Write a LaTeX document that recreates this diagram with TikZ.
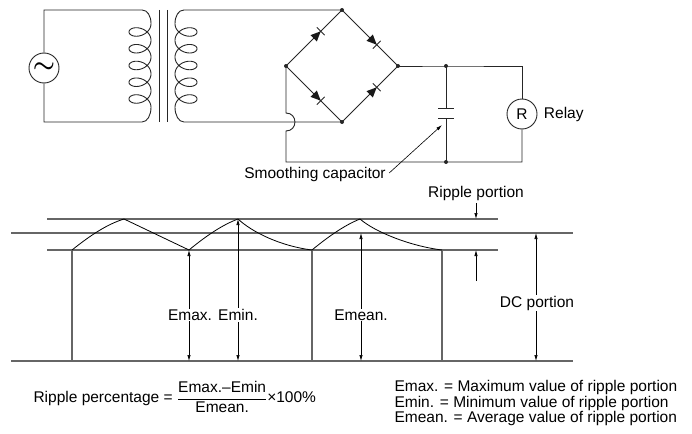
\documentclass[tikz,border=0pt]{standalone}
\usepackage{amsmath}
\usepackage{fontspec}
\setmainfont{Liberation Sans}
\usepackage{tikz}
\usetikzlibrary{arrows.meta,positioning}
\usetikzlibrary{decorations.markings}

\begin{document}
\begin{tikzpicture}[x=1pt,y=-1pt,font=\fontsize{15.5}{15.5}\selectfont,
    wire/.style={draw=black!85,line width=0.9pt},
    scaleline/.style={draw=black!60,line width=1.4pt},
    dimarrow/.style={{Latex[length=6pt,width=3.4pt]}-{Latex[length=6pt,width=3.4pt]},line width=0.7pt},
    onearrow/.style={-{Latex[length=6pt,width=3.4pt]},line width=0.7pt},
    diode/.style={postaction={decorate},decoration={markings,
      mark=at position 0.62 with {\fill[black!90] (-10pt,-4.5pt) -- (0pt,0pt) -- (-10pt,4.5pt) -- cycle;
        \draw[black!85,line width=0.8pt] (0pt,-5.5pt) -- (0pt,5.5pt);}}}]
  \useasboundingbox (0,0) rectangle (692,433);

  % source and transformer
  \node[circle,draw=black!85,line width=0.9pt,minimum size=30pt,inner sep=0pt] (ac) at (44,68)
    {\fontsize{24}{24}\selectfont$\boldsymbol{\sim}$};
  \coordinate (pt) at (142,10);
  \coordinate (pb) at (142,122);
  \coordinate (st) at (184,10);
  \coordinate (sb) at (184,122);
  \coordinate (T) at (342,10);
  \coordinate (L) at (286,66);
  \coordinate (R) at (398,66);
  \coordinate (B) at (342,122);

  \draw[wire] (ac.north) |- (pt) .. controls (147.5,10) and (151,16) .. (151,23.6)
    plot[smooth,samples=240,domain=0:31.416,variable=\t] ({140+11*cos(\t r)},{23.6+2.666*\t+8*sin(\t r)})
    .. controls (151,115) and (147.5,122) .. (pb) -| (ac.south);
  \draw[wire] (159,10) -- (159,122) (167,10) -- (167,122);
  \draw[wire] (T) -- (st) .. controls (178.5,10) and (175,16) .. (175,23.6)
    plot[smooth,samples=240,domain=0:31.416,variable=\t] ({186-11*cos(\t r)},{23.6+2.666*\t+8*sin(\t r)})
    .. controls (175,115) and (178.5,122) .. (sb) -- (B);

  % bridge
  \draw[wire,diode] (L) -- (T);
  \draw[wire,diode] (T) -- (R);
  \draw[wire,diode] (L) -- (B);
  \draw[wire,diode] (B) -- (R);

  % capacitor and relay
  \coordinate (ct) at (446,66);
  \coordinate (cb) at (446,162);
  \coordinate (cp1) at (446,108);
  \coordinate (cp2) at (446,118);
  \coordinate (hopa) at (286,113);
  \coordinate (hopb) at (286,131);
  \node[circle,draw=black!85,line width=0.9pt,minimum size=30pt,inner sep=0pt] (relay) at (522,114) {R};
  \node[right=3pt of relay] (relaytxt) {Relay};
  \draw[wire] (R) -- (ct) -| (relay.north);
  \draw[wire] (L) -- (hopa) to[out=0,in=0,looseness=1.7] (hopb) |- (cb) -| (relay.south);
  \draw[wire] (ct) -- (cp1) (cp2) -- (cb);
  \draw[wire] ([xshift=-8pt]cp1) -- ([xshift=8pt]cp1) ([xshift=-8pt]cp2) -- ([xshift=8pt]cp2);
  \foreach \p in {T,L,R,B,ct,cb} \fill[black!85] (\p) circle[radius=2pt];

  \node (captxt) at (315,174) {Smoothing capacitor};
  \coordinate (capt) at (442,125);
  \draw[onearrow,line width=0.6pt] ([yshift=1pt]captxt.east) -- (capt);

  % ripple graph
  \draw[scaleline] (47,219) -- (498,219);
  \draw[scaleline] (11,233) -- (573,233);
  \draw[scaleline] (47,250) -- (498,250);
  \draw[scaleline] (11,361) -- (573,361);
  \draw[scaleline] (72,250) -- (72,361) (312,250) -- (312,361) (442,250) -- (442,361);
  \draw[black,line width=0.8pt] (72,250) .. controls (92,234) and (108,224) .. (124,219)
    .. controls (145,229) and (168,240) .. (189,250)
    .. controls (206,236) and (222,225) .. (238,219)
    .. controls (252,232) and (280,246) .. (312,250)
    .. controls (329,236) and (345,225) .. (360,219)
    .. controls (375,232) and (410,246) .. (442,250);

  \draw[dimarrow] (189,250) -- (189,361);
  \draw[dimarrow] (238,219) -- (238,361);
  \draw[dimarrow] (361,233) -- (361,361);
  \draw[dimarrow] (536,233) -- (536,361);
  \node[fill=white,inner sep=1pt] (emax) at (190,315) {Emax.};
  \node[fill=white,inner sep=1pt] (emin) at (238,315) {Emin.};
  \node[fill=white,inner sep=1pt] (emean) at (361,315) {Emean.};
  \node[fill=white,inner sep=1pt] (dc) at (537,303) {DC portion};

  \node (ripple) at (476,193) {Ripple portion};
  \draw[onearrow] (476,203) -- (476,219);
  \draw[onearrow] (476,281) -- (476,250);

  % formula and legend
  \node[anchor=west] (pct) at (30,397)
    {Ripple percentage = $\dfrac{\text{Emax.–Emin}}{\text{Emean.}}$×100\%};
  \node[anchor=west,align=left] (legend) at (391,403)
    {Emax. = Maximum value of ripple portion\\
     Emin. = Minimum value of ripple portion\\
     Emean. = Average value of ripple portion};
\end{tikzpicture}
\end{document}
